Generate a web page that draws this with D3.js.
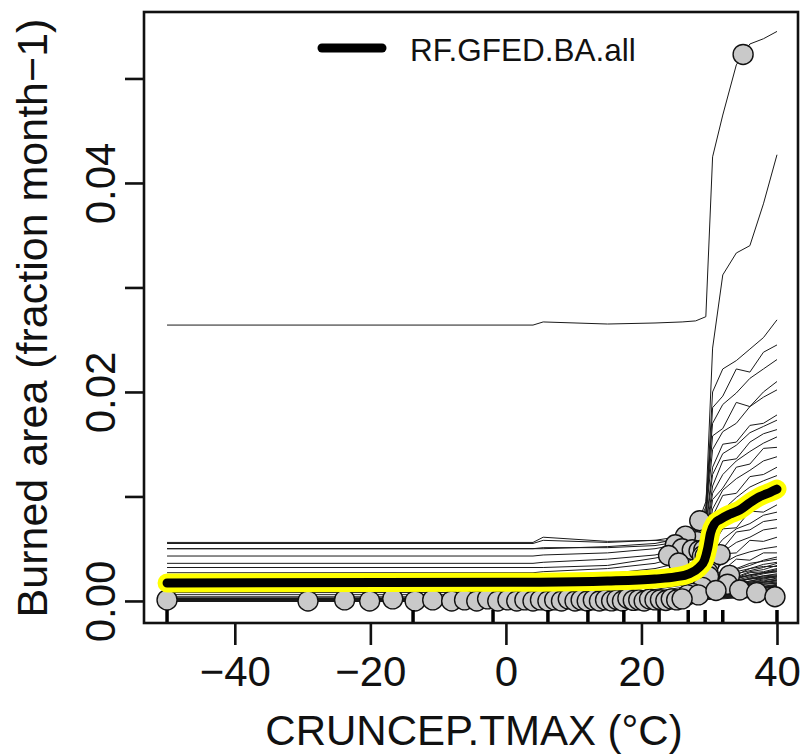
<!DOCTYPE html>
<html><head><meta charset="utf-8">
<script src="https://cdn.jsdelivr.net/npm/d3@7"></script>
<style>body{margin:0;background:#fff} svg{display:block} text{font-family:"Liberation Sans",Arial,Helvetica,sans-serif;fill:#111}</style>
</head><body><svg id="c" width="802" height="755"></svg>
<script>
// ---- data ----
const gridX = [-50, 4, 5.5, 15, 22, 26, 28, 29.5, 30.5, 32, 34, 36, 38, 40];

// individual conditional expectation curves (burned area, fraction month-1) at gridX
const iceCurves = [
  [.0264,.0264,.0267,.0265,.0266,.0267,.0268,.0272,.0425,.0465,.0513,.0533,.0538,.0545],
  [.0055,.0055,.0058,.0056,.0058,.0062,.0068,.0090,.0242,.0312,.0333,.0340,.0380,.0427],
  [.0050,.0050,.0051,.0051,.0053,.0057,.0064,.0085,.0200,.0222,.0230,.0241,.0252,.0269],
  [.0056,.0056,.0061,.0057,.0058,.0056,.0054,.0075,.0185,.0196,.0222,.0219,.0238,.0245],
  [.0050,.0050,.0050,.0052,.0055,.0060,.0068,.0095,.0170,.0188,.0199,.0213,.0222,.0231],
  [.0043,.0043,.0044,.0046,.0050,.0055,.0063,.0085,.0158,.0165,.0190,.0186,.0200,.0210],
  [.0036,.0036,.0037,.0040,.0044,.0050,.0059,.0080,.0145,.0162,.0170,.0186,.0195,.0202],
  [.0032,.0032,.0032,.0034,.0041,.0046,.0054,.0072,.0128,.0150,.0152,.0168,.0170,.0178],
  [.0027,.0027,.0028,.0031,.0036,.0043,.0051,.0069,.0121,.0141,.0149,.0161,.0167,.0173],
  [.0022,.0022,.0023,.0026,.0031,.0037,.0046,.0063,.0110,.0134,.0136,.0152,.0160,.0164],
  [.0018,.0018,.0019,.0022,.0027,.0034,.0042,.0060,.0103,.0121,.0134,.0143,.0151,.0157],
  [.0014,.0014,.0015,.0018,.0023,.0029,.0037,.0052,.0097,.0108,.0128,.0131,.0146,.0147],
  [.0011,.0011,.0012,.0014,.0019,.0025,.0033,.0048,.0088,.0106,.0117,.0125,.0134,.0138],
  [.0008,.0008,.0009,.0011,.0015,.0021,.0029,.0044,.0081,.0101,.0103,.0119,.0121,.0128],
  [.0006,.0006,.0007,.0009,.0013,.0018,.0025,.0040,.0075,.0087,.0099,.0109,.0115,.0120],
  [.0004,.0004,.0005,.0007,.0011,.0015,.0022,.0036,.0067,.0078,.0094,.0097,.0110,.0112],
  [.0003,.0003,.0003,.0005,.0009,.0013,.0019,.0031,.0059,.0071,.0083,.0089,.0097,.0100],
  [.0002,.0002,.0003,.0004,.0008,.0011,.0017,.0027,.0053,.0069,.0070,.0086,.0085,.0092],
  [.0002,.0002,.0002,.0004,.0007,.0010,.0015,.0024,.0047,.0059,.0069,.0074,.0082,.0085],
  [.0001,.0001,.0002,.0003,.0006,.0009,.0013,.0021,.0042,.0050,.0066,.0068,.0076,.0078],
  [.0001,.0001,.0002,.0003,.0005,.0008,.0012,.0019,.0037,.0047,.0056,.0061,.0068,.0070],
  [.0001,.0001,.0001,.0002,.0004,.0007,.0010,.0017,.0033,.0045,.0046,.0058,.0057,.0061],
  [.0001,.0001,.0001,.0002,.0004,.0006,.0009,.0015,.0028,.0036,.0043,.0047,.0050,.0052],
  [.0001,.0001,.0001,.0002,.0003,.0005,.0008,.0013,.0024,.0029,.0040,.0039,.0046,.0046],
  [.0001,.0001,.0001,.0002,.0003,.0005,.0007,.0011,.0020,.0027,.0031,.0036,.0038,.0040],
  [0,0,.0001,.0001,.0002,.0004,.0006,.0009,.0017,.0024,.0025,.0031,.0033,.0033],
  [0,0,.0001,.0001,.0002,.0003,.0005,.0008,.0014,.0018,.0022,.0025,.0027,.0028],
  [0,0,.0001,.0001,.0002,.0003,.0004,.0007,.0012,.0015,.0018,.0021,.0022,.0023],
  [0,0,0,.0001,.0001,.0002,.0003,.0005,.0009,.0012,.0014,.0016,.0017,.0018],
  [0,0,0,.0001,.0001,.0002,.0003,.0004,.0007,.0009,.0010,.0012,.0013,.0013],
  [0,0,0,0,.0001,.0001,.0002,.0003,.0005,.0006,.0007,.0008,.0008,.0008],
  [0,0,0,0,0,.0001,.0001,.0002,.0003,.0003,.0004,.0004,.0004,.0004],
  [.0001,.0001,.0001,.0001,.0001,.0002,.0002,.0003,.0007,.0011,.0014,.0018,.0019,.0022],
  [0,0,0,0,0,.0001,.0001,.0002,.0005,.0007,.0009,.0011,.0013,.0014],
  [.0001,.0001,.0001,.0001,.0002,.0002,.0003,.0005,.0012,.0016,.0021,.0025,.0027,.0030],
  [0,0,0,0,.0001,.0001,.0002,.0003,.0008,.0012,.0013,.0017,.0018,.0020],
  [.0002,.0002,.0002,.0002,.0003,.0004,.0005,.0008,.0017,.0022,.0028,.0031,.0035,.0037],
  [0,0,0,0,0,0,.0001,.0001,.0003,.0004,.0005,.0006,.0007,.0007],
  [.0001,.0001,.0001,.0001,.0002,.0003,.0004,.0006,.0013,.0019,.0022,.0027,.0028,.0031],
  [0,0,0,0,.0001,.0001,.0001,.0002,.0005,.0006,.0008,.0009,.0010,.0010],
  [.0001,.0001,.0001,.0001,.0001,.0002,.0003,.0004,.0010,.0014,.0016,.0019,.0022,.0024],
  [0,0,0,0,0,.0001,.0001,.0002,.0004,.0005,.0006,.0007,.0009,.0009],
  [.0002,.0002,.0002,.0002,.0003,.0004,.0006,.0009,.0019,.0025,.0030,.0034,.0039,.0042],
  [0,0,0,0,0,0,.0001,.0001,.0002,.0003,.0003,.0004,.0004,.0005],
  [.0001,.0001,.0001,.0001,.0002,.0002,.0003,.0005,.0011,.0015,.0019,.0021,.0024,.0026],
  [0,0,0,0,.0001,.0001,.0002,.0003,.0006,.0009,.0011,.0012,.0014,.0015],
  [.0001,.0001,.0001,.0001,.0001,.0002,.0002,.0004,.0008,.0010,.0013,.0015,.0016,.0017],
  [0,0,0,0,0,.0001,.0001,.0001,.0003,.0004,.0005,.0005,.0006,.0006],
  [.0001,.0001,.0001,.0001,.0002,.0003,.0004,.0007,.0015,.0020,.0023,.0028,.0030,.0034],
  [0,0,0,0,0,.0001,.0001,.0002,.0004,.0006,.0007,.0008,.0009,.0011],
  [.0001,.0001,.0001,.0001,.0001,.0001,.0002,.0003,.0007,.0009,.0011,.0012,.0014,.0016],
  [0,0,0,0,.0001,.0001,.0002,.0003,.0006,.0008,.0010,.0013,.0013,.0015],
  [.0002,.0002,.0002,.0002,.0002,.0003,.0004,.0006,.0014,.0018,.0022,.0024,.0027,.0029],
  [0,0,0,0,0,0,.0001,.0001,.0002,.0002,.0003,.0003,.0003,.0003],
  [.0001,.0001,.0001,.0001,.0001,.0002,.0003,.0004,.0009,.0012,.0014,.0017,.0018,.0019],
  [0,0,0,0,.0001,.0001,.0001,.0002,.0005,.0007,.0008,.0010,.0011,.0012],
  [.0001,.0001,.0001,.0001,.0002,.0002,.0003,.0005,.0011,.0013,.0017,.0019,.0021,.0023],
  [0,0,0,0,0,.0001,.0001,.0001,.0003,.0004,.0004,.0005,.0006,.0006],
  [.0001,.0001,.0001,.0001,.0001,.0002,.0003,.0005,.0012,.0016,.0018,.0022,.0024,.0025],
  [0,0,0,0,.0001,.0001,.0001,.0002,.0004,.0005,.0007,.0007,.0008,.0009],
  [.0001,.0001,.0001,.0001,.0002,.0003,.0004,.0006,.0013,.0017,.0020,.0023,.0026,.0028],
  [0,0,0,0,0,.0001,.0001,.0002,.0005,.0006,.0008,.0009,.0010,.0011],
  [.0002,.0002,.0002,.0002,.0003,.0004,.0005,.0008,.0016,.0021,.0026,.0029,.0032,.0036],
  [0,0,0,0,.0001,.0001,.0001,.0002,.0004,.0005,.0006,.0007,.0007,.0008],
  [.0001,.0001,.0001,.0001,.0001,.0002,.0003,.0004,.0009,.0012,.0015,.0016,.0018,.0020],
  [0,0,0,0,0,.0001,.0001,.0001,.0003,.0003,.0004,.0005,.0005,.0005],
  [.0001,.0001,.0001,.0001,.0002,.0003,.0004,.0006,.0012,.0015,.0019,.0021,.0023,.0024],
  [0,0,0,0,.0001,.0001,.0002,.0003,.0006,.0008,.0010,.0011,.0012,.0013],
  [.0001,.0001,.0001,.0001,.0001,.0002,.0003,.0004,.0008,.0011,.0012,.0015,.0016,.0017],
  [0,0,0,0,0,.0001,.0001,.0002,.0004,.0005,.0006,.0006,.0007,.0007],
  [.0001,.0001,.0001,.0001,.0002,.0002,.0003,.0005,.0010,.0013,.0016,.0018,.0020,.0021],
  [0,0,0,0,.0001,.0001,.0001,.0002,.0005,.0007,.0008,.0009,.0010,.0010],
  [.0001,.0001,.0001,.0001,.0001,.0002,.0002,.0003,.0007,.0009,.0011,.0012,.0013,.0014]
];

// observed CRUNCEP.TMAX of each curve (where its circle sits)
const obsX = [35, 28.6, 27.0, 28.2, 26.5, 25.0, 26.0, 24.0, 27.5, 25.5, 28.5,
  29.2, 29.0, 29.4, 28.0, 29.5, 28.8, 29.0, 30.0, 29.8, 31.6, 29.9, 29.0, 27.5,
  26.8, 33.0, 28.4, 32.7, 31.0, 34.5, 37, 39.7,
  -50, -29.2, -23.8, -20.1, -16.7, -13.4, -10.8, -8.0, -6.1, -4.3, -2.7, -1.2,
  0.3, 1.6, 2.8, 4.0, 5.1, 6.2, 7.2, 8.2, 9.2, 10.2, 11.1, 12.0, 12.9, 13.8,
  14.7, 15.6, 16.4, 17.2, 18.0, 18.8, 19.6, 20.4, 21.2, 22.0, 22.8, 23.6, 24.4,
  25.2, 26.0];

// partial dependence (mean) curve
const meanX = [-50, 5, 15, 22, 25, 27, 28.5, 29.3, 29.8, 30.2, 30.8, 31.6, 33, 34.5, 36, 37.5, 39, 40];
const meanY = [.00172, .00180, .00190, .00210, .00230, .00260, .00320, .00390, .00510, .00650, .00740, .00780, .00830, .00870, .00940, .01000, .01040, .01070];

// deciles of observed x (rug)
const rugX = [-50, -13.7, -1.9, 6.2, 12.1, 17.4, 22.6, 26.9, 29.4, 32.0, 40];

const xTicks = [-40, -20, 0, 20, 40];
const yTicks = [0, 0.01, 0.02, 0.03, 0.04, 0.05];
const yTickLabels = ["0.00", "", "0.02", "", "0.04", ""];
const legendLabel = "RF.GFED.BA.all";
const xTitle = "CRUNCEP.TMAX (°C)";
const yTitle = "Burned area (fraction month\u22121)";

// ---- drawing ----
const svg = d3.select("#c");
const L = 144, R = 798, T = 12, B = 623;
const x = d3.scaleLinear().domain([-53.4, 43.1]).range([L, R]);
const y = d3.scaleLinear().domain([-0.00211, 0.05636]).range([B, T]);

svg.append("clipPath").attr("id", "clip").append("rect")
  .attr("x", L).attr("y", T).attr("width", R - L).attr("height", B - T);
const plot = svg.append("g").attr("clip-path", "url(#clip)");

const line = d3.line().x((d, i) => x(gridX[i])).y(d => y(d));
plot.append("g").selectAll("path").data(iceCurves).join("path")
  .attr("d", line).attr("fill", "none").attr("stroke", "#1a1a1a")
  .attr("stroke-width", 1).attr("stroke-linejoin", "round");

const pts = obsX.map((ox, i) => ({ x: ox, y: d3.scaleLinear().domain(gridX).range(iceCurves[i])(ox) }));
plot.append("g").selectAll("circle").data(pts).join("circle")
  .attr("cx", d => x(d.x)).attr("cy", d => y(d.y)).attr("r", 10)
  .attr("fill", "#c9c9c9").attr("stroke", "#111").attr("stroke-width", 1.4);

const meanPts = meanX.map((v, i) => [v, meanY[i]]);
const mline = d3.line().curve(d3.curveMonotoneX).x(d => x(d[0])).y(d => y(d[1]));
plot.append("path").attr("d", mline(meanPts)).attr("fill", "none")
  .attr("stroke", "#ffff00").attr("stroke-width", 19).attr("stroke-linecap", "round").attr("stroke-linejoin", "round");
plot.append("path").attr("d", mline(meanPts)).attr("fill", "none")
  .attr("stroke", "#000").attr("stroke-width", 9).attr("stroke-linecap", "round").attr("stroke-linejoin", "round");

// rug
svg.append("g").selectAll("line").data(rugX).join("line")
  .attr("x1", d => x(d)).attr("x2", d => x(d)).attr("y1", B - 13).attr("y2", B)
  .attr("stroke", "#000").attr("stroke-width", 3.5);

// box
svg.append("rect").attr("x", L).attr("y", T).attr("width", R - L).attr("height", B - T)
  .attr("fill", "none").attr("stroke", "#111").attr("stroke-width", 2.6);

// axes
const xa = svg.append("g").attr("transform", `translate(0,${B})`)
  .call(d3.axisBottom(x).tickValues(xTicks).tickSize(22).tickSizeOuter(0).tickPadding(11).tickFormat(d3.format("d")));
xa.select(".domain").remove();
xa.selectAll(".tick line").attr("stroke", "#111").attr("stroke-width", 2.6);
xa.selectAll(".tick text").attr("font-size", 42).attr("fill", "#111")
  .attr("font-family", '"Liberation Sans",Arial,sans-serif');

const ya = svg.append("g").attr("transform", `translate(${L},0)`)
  .call(d3.axisLeft(y).tickValues(yTicks).tickSize(19).tickSizeOuter(0).tickFormat((d, i) => yTickLabels[i]));
ya.select(".domain").remove();
ya.selectAll(".tick line").attr("stroke", "#111").attr("stroke-width", 2.6);
ya.selectAll(".tick text").attr("font-size", 42).attr("fill", "#111")
  .attr("font-family", '"Liberation Sans",Arial,sans-serif')
  .attr("x", 0).attr("dy", 0).attr("text-anchor", "middle")
  .attr("transform", "translate(-29,0) rotate(-90)");

// titles
svg.append("text").attr("x", 474).attr("y", 745).attr("text-anchor", "middle")
  .attr("font-size", 42).text(xTitle);
svg.append("text").attr("transform", "translate(47,318) rotate(-90)").attr("text-anchor", "middle")
  .attr("font-size", 43).text(yTitle);

// legend
svg.append("line").attr("x1", 322).attr("x2", 382).attr("y1", 48).attr("y2", 48)
  .attr("stroke", "#000").attr("stroke-width", 9).attr("stroke-linecap", "round");
svg.append("text").attr("x", 410).attr("y", 61).attr("font-size", 31.5).text(legendLabel);
</script></body></html>
